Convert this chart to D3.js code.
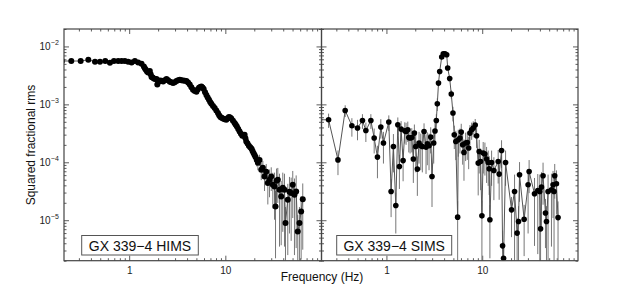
<!DOCTYPE html>
<html>
<head>
<meta charset="utf-8">
<script src="https://cdn.jsdelivr.net/npm/d3@7"></script>
<style>
  body { margin: 0; background: #fff; }
  svg { display: block; font-family: "Liberation Sans", Arial, sans-serif; }
</style>
</head>
<body>
<div id="chart"></div>
<script>
// GX 339-4 power spectra, HIMS (left) and SIMS (right)
var hims_freq = [
    0.200, 0.250, 0.313, 0.376, 0.441, 0.497, 0.564, 0.631, 0.694, 0.769, 0.834, 0.902, 0.976, 1.059, 1.146, 1.240, 1.345,
    1.421, 1.455, 1.490, 1.532, 1.574, 1.607, 1.640, 1.674, 1.708, 1.755, 1.804, 1.864, 1.924,
    1.961, 2.020, 2.082, 2.166, 2.253, 2.346, 2.443, 2.541, 2.644, 2.750, 2.860, 2.979, 3.102, 3.227, 3.357, 3.492, 3.632, 3.782, 3.939, 4.098, 4.263,
    4.435, 4.613, 4.804, 5.002, 5.160, 5.323, 5.478, 5.637, 5.793, 5.954, 6.150, 6.352, 6.553, 6.761, 6.957, 7.158,
    7.446, 7.745, 8.055, 8.378, 8.623, 8.874, 9.153, 9.44, 9.83, 10.24, 10.56, 10.90, 11.22, 11.54, 12.01, 12.49, 12.83, 13.19, 13.62, 14.07, 14.53, 15.01, 15.43, 15.86, 16.18, 16.51,
    17.03, 17.57, 18.15, 18.74, 19.19, 19.66, 20.13, 20.62, 21.20, 21.79,
    22.69, 23.63, 24.55, 25.56, 26.63, 27.67, 28.81, 30.01, 31.18, 32.47, 33.26, 34.06, 35.13, 36.59, 38.10, 39.58, 41.22, 42.22, 44.61, 46.45,
    48.37, 50.25, 52.34, 54.51, 56.63, 58.97, 61.43, 63.83];
var hims_power = [
    5.60e-3, 5.60e-3, 5.60e-3, 5.89e-3, 5.44e-3, 5.44e-3, 5.60e-3, 5.23e-3, 5.60e-3, 5.60e-3, 5.60e-3, 5.60e-3, 5.44e-3, 5.29e-3, 5.60e-3, 5.29e-3, 5.03e-3,
    4.51e-3, 4.20e-3, 3.96e-3, 3.70e-3, 3.56e-3, 3.60e-3, 3.76e-3, 3.30e-3, 2.96e-3, 2.90e-3, 2.80e-3, 2.75e-3, 2.74e-3,
    2.21e-3, 2.45e-3, 2.59e-3, 2.55e-3, 2.49e-3, 2.60e-3, 2.74e-3, 2.62e-3, 2.46e-3, 2.40e-3, 2.33e-3, 2.42e-3, 2.53e-3, 2.60e-3, 2.66e-3, 2.62e-3, 2.59e-3, 2.56e-3, 2.53e-3, 2.38e-3, 2.21e-3,
    1.98e-3, 1.79e-3, 1.70e-3, 1.65e-3, 1.80e-3, 1.94e-3, 2.00e-3, 2.04e-3, 1.95e-3, 1.84e-3, 1.62e-3, 1.45e-3, 1.32e-3, 1.20e-3, 1.10e-3, 1.02e-3,
    9.40e-4, 8.63e-4, 7.80e-4, 7.08e-4, 6.50e-4, 6.04e-4, 5.90e-4, 5.71e-4, 5.55e-4, 5.42e-4, 5.75e-4, 6.04e-4, 5.95e-4, 5.71e-4, 5.20e-4, 4.75e-4, 4.45e-4, 4.15e-4, 3.75e-4, 3.40e-4, 3.10e-4, 2.87e-4, 2.92e-4, 2.99e-4, 2.60e-4, 2.29e-4,
    2.10e-4, 1.93e-4, 1.82e-4, 1.71e-4, 1.57e-4, 1.44e-4, 1.34e-4, 1.24e-4, 1.10e-4, 9.80e-5,
    1.10e-4, 7.42e-5, 8.04e-5, 5.69e-5, 6.85e-5, 4.37e-5, 4.99e-5, 5.69e-5, 4.09e-5, 3.82e-5, 1.72e-5, 4.79e-5, 4.99e-5, 3.35e-5, 2.57e-5, 3.63e-5, 3.35e-5, 8.91e-6, 2.25e-5, 3.09e-5,
    2.94e-5, 4.09e-5, 2.75e-5, 3.13e-5, 6.38e-6, 8.91e-6, 1.41e-5, 2.31e-5];
var hims_err = [
    1.5e-4, 1.5e-4, 1.5e-4, 1.5e-4, 1.5e-4, 1.5e-4, 1.5e-4, 1.5e-4, 1.5e-4, 1.5e-4, 1.5e-4, 1.5e-4, 1.5e-4, 1.5e-4, 1.5e-4, 1.5e-4, 1.5e-4,
    1e-4, 1e-4, 1e-4, 1e-4, 1e-4, 1e-4, 1e-4, 1e-4, 1e-4, 1e-4, 1e-4, 1e-4, 1e-4,
    7e-5, 7e-5, 7e-5, 7e-5, 7e-5, 7e-5, 7e-5, 7e-5, 7e-5, 7e-5, 7e-5, 7e-5, 7e-5, 7e-5, 7e-5, 7e-5, 7e-5, 7e-5, 7e-5, 7e-5, 7e-5,
    5e-5, 5e-5, 5e-5, 5e-5, 5e-5, 5e-5, 5e-5, 5e-5, 5e-5, 5e-5, 5e-5, 5e-5, 5e-5, 5e-5, 5e-5, 5e-5,
    3e-5, 3e-5, 3e-5, 3e-5, 3e-5, 3e-5, 3e-5, 3e-5, 3e-5, 3e-5, 3e-5, 3e-5, 3e-5, 3e-5, 3e-5, 3e-5, 3e-5, 3e-5, 3e-5, 3e-5, 3e-5, 3e-5, 3e-5, 3e-5, 3e-5, 3e-5,
    2.5e-5, 2.5e-5, 2.5e-5, 2.5e-5, 2.5e-5, 2.5e-5, 2.5e-5, 2.5e-5, 2.5e-5, 2.5e-5,
    2.5e-5, 2.5e-5, 2.5e-5, 2.5e-5, 2.5e-5, 2.5e-5, 2.5e-5, 2.5e-5, 2.5e-5, 2.8e-5, 1.5e-5, 3e-5, 3e-5, 3e-5, 2.2e-5, 3e-5, 3e-5, 8e-6, 2e-5, 2.5e-5,
    2.5e-5, 3e-5, 2.5e-5, 2.8e-5, 6e-6, 8e-6, 1.2e-5, 2e-5];

var sims_freq = [0.200, 0.249, 0.312, 0.371, 0.436, 0.499, 0.562, 0.610, 0.688, 0.745, 0.806,
    0.874, 0.931, 1.059, 1.119, 1.183, 1.253, 1.315, 1.366, 1.423, 1.493,
    1.555, 1.604, 1.671, 1.712, 1.766, 1.839, 1.910, 1.958, 2.024, 2.103,
    2.191, 2.282, 2.371, 2.470, 2.592, 2.674, 2.785, 2.901, 2.992, 3.117,
    3.215, 3.318, 3.398, 3.497, 3.600, 3.777, 3.924, 4.088, 4.259, 4.361,
    4.575, 4.754, 4.95, 5.11, 5.30, 5.54, 5.62, 5.86, 6.04, 6.25,
    6.45, 6.71, 6.98, 7.22, 7.45, 7.76, 8.06, 8.45, 8.74, 9.08,
    9.30, 9.62, 9.93, 10.24, 10.67, 11.11, 11.55, 11.83, 12.03, 12.53,
    13.24, 14.68, 15.03, 15.92, 16.32, 16.71, 17.53, 20.23, 21.76, 23.15,
    23.94, 24.53, 27.39, 30.14, 30.88, 35.15, 38.02, 39.90, 40.67, 41.57,
    43.17, 45.74, 46.87, 48.70, 52.84, 54.90, 56.23, 57.16, 59.57, 61.90];
var sims_power = [5.42e-4, 5.42e-4, 1.10e-4, 7.84e-4, 4.27e-4, 3.90e-4, 5.27e-4, 3.54e-4, 5.27e-4, 2.62e-4, 1.23e-4,
    4.06e-4, 2.15e-4, 4.95e-4, 3.13e-5, 1.87e-4, 1.79e-5, 4.44e-4, 8.46e-5, 3.74e-4, 1.07e-4,
    3.50e-4, 3.40e-4, 3.64e-4, 2.68e-4, 2.62e-4, 2.68e-4, 1.14e-4, 3.19e-4, 1.87e-4, 7.63e-5,
    2.15e-4, 1.93e-4, 1.87e-4, 3.40e-4, 1.83e-4, 2.09e-4, 1.93e-4, 2.72e-4, 5.69e-5, 2.15e-4,
    3.46e-4, 5.27e-4, 1.02e-3, 2.33e-3, 3.70e-3, 6.56e-3, 7.48e-3, 7.48e-3, 7.19e-3, 4.24e-3,
    2.80e-3, 1.51e-3, 7.08e-4, 2.99e-4, 2.29e-4, 1.13e-5, 2.45e-4, 2.62e-4, 3.32e-4, 2.01e-4,
    1.48e-4, 2.15e-4, 2.20e-4, 1.76e-4, 3.19e-4, 3.64e-4, 3.90e-4, 4.39e-4, 2.87e-4, 9.68e-5,
    1.54e-4, 1.03e-4, 1.19e-5, 1.44e-4, 1.39e-4, 1.14e-4, 9.92e-5, 7.73e-5, 1.02e-5, 9.92e-5,
    7.22e-5, 1.03e-4, 6.25e-5, 1.60e-4, 3.61e-6, 2.21e-6, 9.92e-5, 1.51e-5, 3.13e-5, 5.99e-6,
    9.50e-6, 6.08e-5, 1.04e-5, 4.09e-5, 6.93e-5, 2.86e-5, 3.26e-5, 3.13e-5, 7.10e-6, 3.73e-5,
    5.85e-5, 1.33e-5, 9.50e-6, 3.13e-5, 3.35e-5, 4.09e-5, 3.13e-5, 5.85e-5, 4.25e-5, 1.11e-5];
var sims_err = [1.5e-4, 1.5e-4, 5e-5, 1.8e-4, 1.5e-4, 1.5e-4, 1.5e-4, 1.3e-4, 1.5e-4, 1.2e-4, 7e-5,
    1.5e-4, 1.2e-4, 1.5e-4, 2e-5, 1.2e-4, 1.2e-5, 1.5e-4, 5e-5, 1.4e-4, 6e-5,
    1.4e-4, 1.4e-4, 1.4e-4, 1.2e-4, 1.2e-4, 1.2e-4, 7e-5, 1.3e-4, 1.2e-4, 5e-5,
    1.2e-4, 1.2e-4, 1.2e-4, 1.3e-4, 1.2e-4, 1.2e-4, 1.2e-4, 1.3e-4, 4e-5, 1.2e-4,
    1.3e-4, 1.5e-4, 2.5e-4, 3e-4, 3.5e-4, 4e-4, 4e-4, 4e-4, 4e-4, 3.5e-4,
    3e-4, 2.5e-4, 2e-4, 1.3e-4, 1.2e-4, 1e-5, 1.2e-4, 1.2e-4, 1.3e-4, 1.1e-4,
    1e-4, 1.1e-4, 1.1e-4, 1e-4, 1.2e-4, 1.2e-4, 1.2e-4, 1.2e-4, 1.1e-4, 7e-5,
    9e-5, 7e-5, 1e-5, 8e-5, 8e-5, 7e-5, 6e-5, 5e-5, 8e-6, 6e-5,
    5e-5, 6e-5, 4e-5, 8e-5, 3e-6, 2e-6, 6e-5, 1e-5, 3e-5, 5e-6,
    8e-6, 4e-5, 8e-6, 3.5e-5, 4e-5, 2.5e-5, 3e-5, 3e-5, 6e-6, 3e-5,
    4e-5, 1e-5, 8e-6, 3e-5, 3e-5, 3e-5, 3e-5, 3.5e-5, 3e-5, 1e-5];

var x_major = [1, 10];
var y_major = [1e-2, 1e-3, 1e-4, 1e-5];
var y_exponents = ["−2", "−3", "−4", "−5"];
var panel_labels = ["GX 339−4 HIMS", "GX 339−4 SIMS"];
var x_title = "Frequency (Hz)";
var y_title = "Squared fractional rms";

var width = 642, height = 291;
var plotTop = 29, plotBottom = 260.7;
var panels = [
    {x0: 64, x1: 321.5, freq: hims_freq, power: hims_power, err: hims_err, label: panel_labels[0], boxW: 116.6, r: 3},
    {x0: 321.5, x1: 578, freq: sims_freq, power: sims_power, err: sims_err, label: panel_labels[1], boxW: 115, r: 2.8}
];

var svg = d3.select("#chart").append("svg")
    .attr("width", width)
    .attr("height", height);

var y = d3.scaleLog().domain([2e-6, 2e-2]).range([plotBottom, plotTop]);

// minor tick values
var x_minor = [], y_minor = [];
[0.1, 1, 10].forEach(function (d) {
    for (var k = 2; k <= 9; k++) x_minor.push(d * k);
});
x_minor = x_minor.filter(function (v) { return v >= 0.21 && v <= 100; });
[1e-6, 1e-5, 1e-4, 1e-3, 1e-2].forEach(function (d) {
    for (var k = 2; k <= 9; k++) y_minor.push(d * k);
});
y_minor = y_minor.filter(function (v) { return v >= 2e-6 && v <= 2e-2; });

panels.forEach(function (p, pi) {
    var x = d3.scaleLog().domain([0.21, 100]).range([p.x0, p.x1]);
    var g = svg.append("g");
    var clipId = "clip" + pi;
    svg.append("clipPath").attr("id", clipId)
        .append("rect")
        .attr("x", p.x0).attr("y", plotTop)
        .attr("width", p.x1 - p.x0).attr("height", plotBottom - plotTop);

    // axes, ticks pointing inward
    function tickAxis(axis, values, size, translate, fmt) {
        var a = g.append("g")
            .attr("transform", translate)
            .call(axis.tickValues(values).tickSize(size).tickPadding(6.5).tickFormat(fmt));
        a.select(".domain").remove();
        a.selectAll("line").attr("stroke", "#333").attr("stroke-width", 0.8);
        return a;
    }
    var none = function () { return ""; };
    var bx = tickAxis(d3.axisBottom(x), x_major, -5, "translate(0," + plotBottom + ")", d3.format("d"));
    bx.selectAll("text").attr("font-size", 10).attr("fill", "#222")
        .attr("font-family", "Liberation Sans, Arial, sans-serif");
    tickAxis(d3.axisBottom(x), x_minor, -2.5, "translate(0," + plotBottom + ")", none);
    tickAxis(d3.axisTop(x), x_major, -5, "translate(0," + plotTop + ")", none);
    tickAxis(d3.axisTop(x), x_minor, -2.5, "translate(0," + plotTop + ")", none);
    tickAxis(d3.axisLeft(y), y_major, -5, "translate(" + p.x0 + ",0)", none);
    tickAxis(d3.axisLeft(y), y_minor, -2.5, "translate(" + p.x0 + ",0)", none);
    tickAxis(d3.axisRight(y), y_major, -5, "translate(" + p.x1 + ",0)", none);
    tickAxis(d3.axisRight(y), y_minor, -2.5, "translate(" + p.x1 + ",0)", none);

    var pts = p.freq.map(function (f, i) {
        return {f: f, P: p.power[i], e: p.err[i] || 0};
    });
    var data = g.append("g").attr("clip-path", "url(#" + clipId + ")");

    // error bars
    data.selectAll("line.err").data(pts).enter().append("line")
        .attr("class", "err")
        .attr("x1", function (d) { return x(d.f); })
        .attr("x2", function (d) { return x(d.f); })
        .attr("y1", function (d) { return y(d.P + d.e); })
        .attr("y2", function (d) { return d.P - d.e > 2e-6 ? y(d.P - d.e) : plotBottom; })
        .attr("stroke", "#777")
        .attr("stroke-width", 1);

    var line = d3.line()
        .x(function (d) { return x(d.f); })
        .y(function (d) { return y(d.P); });
    data.append("path").datum(pts)
        .attr("d", line)
        .attr("fill", "none")
        .attr("stroke", "#555")
        .attr("stroke-width", 1);

    data.selectAll("circle").data(pts).enter().append("circle")
        .attr("cx", function (d) { return x(d.f); })
        .attr("cy", function (d) { return y(d.P); })
        .attr("r", p.r)
        .attr("fill", "#000");

    // frame
    g.append("rect")
        .attr("x", p.x0).attr("y", plotTop)
        .attr("width", p.x1 - p.x0).attr("height", plotBottom - plotTop)
        .attr("fill", "none")
        .attr("stroke", "#444")
        .attr("stroke-width", 1.2);

    // label box
    var bx0 = p.x0 + (pi === 0 ? 17.7 : 15.2);
    g.append("rect")
        .attr("x", bx0).attr("y", 235.5)
        .attr("width", p.boxW).attr("height", 19.5)
        .attr("fill", "#fff")
        .attr("stroke", "#555")
        .attr("stroke-width", 1);
    g.append("text")
        .attr("x", bx0 + p.boxW / 2).attr("y", 251.3)
        .attr("text-anchor", "middle")
        .attr("font-size", 14)
        .attr("fill", "#111")
        .text(p.label);
});

// y tick labels on the left panel
var ylab = svg.append("g");
y_major.forEach(function (v, i) {
    ylab.append("text")
        .attr("x", 50.5)
        .attr("y", y(v) + 3.5)
        .attr("text-anchor", "end")
        .attr("font-size", 10)
        .attr("fill", "#222")
        .text("10");
    ylab.append("text")
        .attr("x", 50.8)
        .attr("y", y(v) - 1)
        .attr("font-size", 7)
        .attr("fill", "#222")
        .text(y_exponents[i]);
});

svg.append("text")
    .attr("x", 322).attr("y", 281)
    .attr("text-anchor", "middle")
    .attr("font-size", 12)
    .attr("fill", "#111")
    .text(x_title);

svg.append("text")
    .attr("transform", "translate(35,145) rotate(-90)")
    .attr("text-anchor", "middle")
    .attr("font-size", 12)
    .attr("fill", "#111")
    .text(y_title);
</script>
</body>
</html>
